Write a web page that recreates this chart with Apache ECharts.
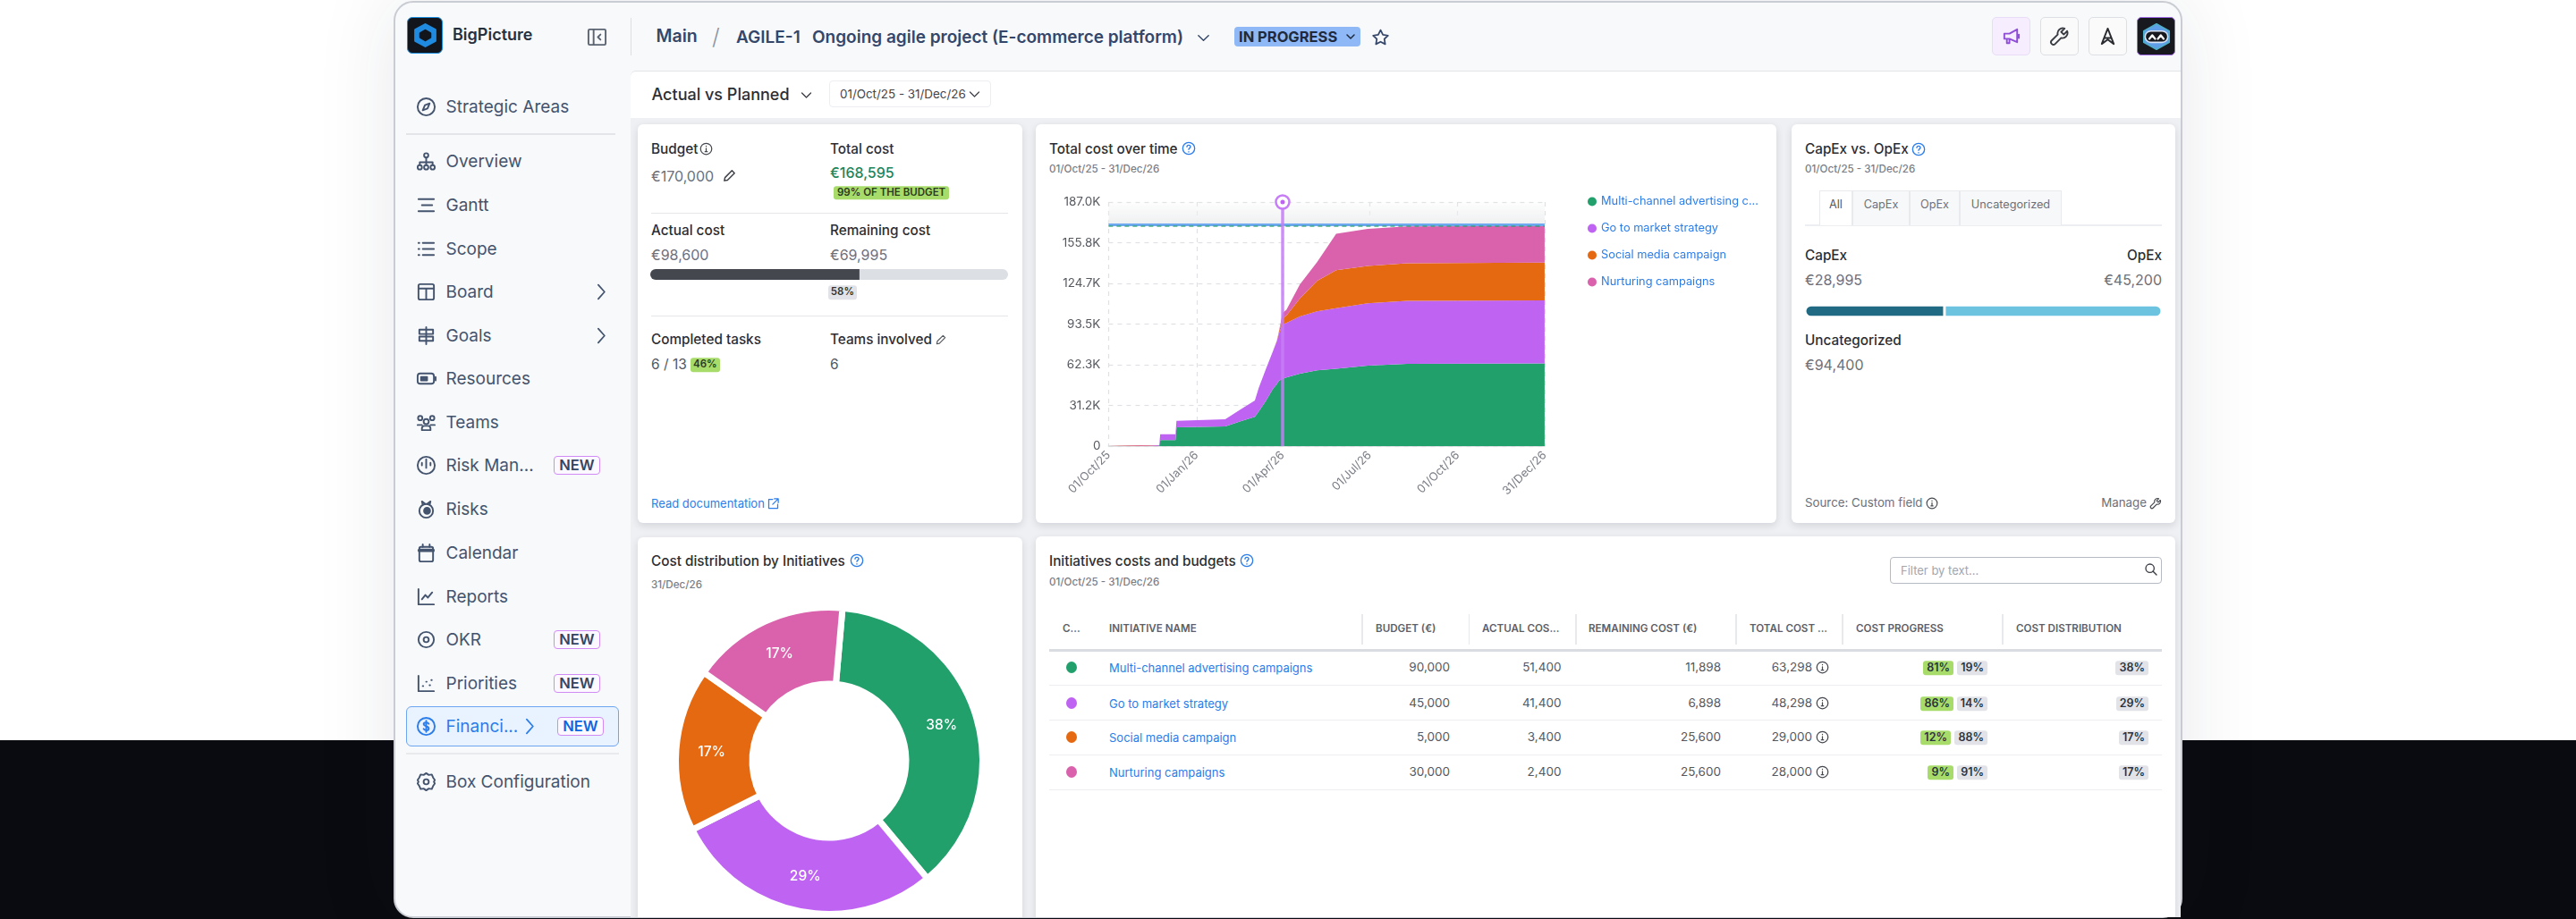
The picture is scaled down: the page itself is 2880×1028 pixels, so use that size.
<!DOCTYPE html>
<html>
<head>
<meta charset="utf-8">
<script src="https://cdn.jsdelivr.net/npm/echarts@6/dist/echarts.min.js"></script>
<style>
html,body{margin:0;padding:0;width:2880px;height:1028px;overflow:hidden;background:#fff;font-family:Inter,"Noto Sans",sans-serif}
#band{position:absolute;left:0;top:828px;width:2880px;height:200px;background:#0a0b10}
#win{position:absolute;left:440px;top:1px;width:2000px;height:1026px;background:#f8f9fa;border:2px solid #c9ccd2;border-radius:22px;box-sizing:border-box;box-shadow:0 0 90px rgba(30,40,70,.10);overflow:hidden}
#root{position:absolute;left:0;top:0;width:2880px;height:1026px;overflow:hidden;pointer-events:none}
.t{position:absolute;white-space:nowrap;transform:translateY(-50%);line-height:1}
.box{position:absolute;box-sizing:border-box}
.card{position:absolute;background:#fff;border-radius:6px;box-shadow:0 3px 8px rgba(30,40,70,.14)}
.chart{position:absolute}
svg{position:absolute;fill:none;stroke:currentColor;stroke-width:2;stroke-linecap:round;stroke-linejoin:round}
</style>
</head>
<body>
<div id="band"></div>
<div id="win"></div>
<div id="root"></div>
<div id="chartArea" class="chart" style="left:1158px;top:200px;width:828px;height:385px"></div>
<div id="chartPie" class="chart" style="left:713px;top:670px;width:430px;height:356px"></div>
<div id="chartCapex" class="chart" style="left:2018px;top:336px;width:399px;height:24px"></div>
<div id="chartBudget" class="chart" style="left:727px;top:297px;width:400px;height:20px"></div>
<script>
// initiatives table
var initiativeNames = ['Multi-channel advertising campaigns', 'Go to market strategy', 'Social media campaign', 'Nurturing campaigns'];
var budgetValues = [90000, 45000, 5000, 30000];
var actualValues = [51400, 41400, 3400, 2400];
var remainingValues = [11898, 6898, 25600, 25600];
var totalValues = [63298, 48298, 29000, 28000];
var progressDone = [81, 86, 12, 9];
var progressLeft = [19, 14, 88, 91];
var distribution = [38, 29, 17, 17];
var seriesColors = ['#22A06B', '#BF63F3', '#E56910', '#DA62AC'];

// total cost over time
var dates = ['2025-10-01', '2025-11-04', '2025-11-05', '2025-11-23', '2025-11-24', '2025-12-10', '2025-12-11', '2026-01-31', '2026-02-16', '2026-03-03', '2026-03-07', '2026-03-14', '2026-03-22', '2026-03-26', '2026-03-28', '2026-04-01', '2026-04-05', '2026-04-19', '2026-05-07', '2026-05-27', '2026-06-29', '2026-08-09', '2026-12-31'];
var multiChannel = [0, 0, 0, 0, 4600, 4600, 14400, 15000, 19000, 22400, 26500, 34000, 44000, 47500, 50000, 51600, 52500, 55400, 58000, 59300, 61600, 63000, 63298];
var goToMarket = [0, 0, 500, 700, 4500, 4500, 5000, 5500, 9000, 12600, 18000, 24000, 29000, 33000, 36000, 41500, 41800, 44000, 45300, 46300, 47800, 48300, 48298];
var socialMedia = [0, 0, 0, 0, 0, 0, 0, 0, 0, 0, 0, 0, 0, 300, 1000, 4700, 5700, 13600, 23200, 29100, 28600, 28800, 29000];
var nurturing = [0, 0, 0, 0, 0, 0, 0, 0, 0, 0, 0, 0, 0, 0, 300, 4300, 4500, 10800, 14500, 27900, 28400, 28200, 28000];

var tickDates = ['2025-10-01', '2026-01-01', '2026-04-01', '2026-07-01', '2026-10-01', '2026-12-31'];
var tickLabels = ['01/Oct/25', '01/Jan/26', '01/Apr/26', '01/Jul/26', '01/Oct/26', '31/Dec/26'];
var yTickLabels = ['0', '31.2K', '62.3K', '93.5K', '124.7K', '155.8K', '187.0K'];
var yMax = 187000;
var budgetValue = 170000;
var totalCostValue = 168595;
var actualCostValue = 98600;
var capexValue = 28995;
var opexValue = 45200;
var uncategorizedValue = 94400;
var todayDate = '2026-04-01';

// one axis category per calendar day, so the area keeps its real time spacing
var axisDays = [];
for (var day = Date.UTC(2025, 9, 1); day <= Date.UTC(2026, 11, 31); day += 86400000) {
    axisDays.push(new Date(day).toISOString().slice(0, 10));
}

var root = document.getElementById('root');
function money(v) { return v.toLocaleString('en-US'); }

function t(x, y, str, size, color, weight, right) {
    var el = document.createElement('div');
    el.className = 't';
    el.textContent = str;
    el.style.top = y + 'px';
    if (right) el.style.right = (2880 - x) + 'px'; else el.style.left = x + 'px';
    el.style.fontSize = size + 'px';
    el.style.color = color;
    el.style.fontWeight = weight || 400;
    root.appendChild(el);
    return el;
}
function box(x, y, w, h, css, cls) {
    var el = document.createElement('div');
    el.className = cls || 'box';
    el.style.cssText = 'left:' + x + 'px;top:' + y + 'px;width:' + w + 'px;height:' + h + 'px;' + (css || '');
    root.appendChild(el);
    return el;
}
function icon(x, y, size, color, inner, sw) {
    var s = document.createElementNS('http://www.w3.org/2000/svg', 'svg');
    s.setAttribute('viewBox', '0 0 24 24');
    s.setAttribute('width', size);
    s.setAttribute('height', size);
    s.style.left = (x - size / 2) + 'px';
    s.style.top = (y - size / 2) + 'px';
    s.style.color = color;
    if (sw) s.style.strokeWidth = sw;
    s.innerHTML = inner;
    root.appendChild(s);
}
function badge(xRight, y, str, bg) {
    var el = t(xRight, y, str, 12.5, '#2c3140', 600, true);
    el.style.background = bg;
    el.style.padding = '1.5px 4px';
    el.style.borderRadius = '3px';
    return el;
}

var ICONS = {
    compass: '<circle cx="12" cy="12" r="10"/><path d="M16 8l-2.5 6L8 16l2.5-6z"/>',
    tree: '<circle cx="12" cy="5" r="2.5"/><circle cx="4.5" cy="19" r="2.5"/><circle cx="12" cy="19" r="2.5"/><circle cx="19.5" cy="19" r="2.5"/><path d="M12 8v8M4.5 16v-3h15v3"/>',
    gantt: '<path d="M3 5h18M7 12h12M3 19h18"/>',
    list: '<path d="M8 5h13M8 12h13M8 19h13M3 5h1M3 12h1M3 19h1"/>',
    board: '<rect x="3" y="3" width="18" height="18" rx="2"/><path d="M3 8h18M12 8v13"/>',
    sign: '<path d="M12 2v20M4 5h16v5H4zM4 13h16v5H4z"/>',
    battery: '<rect x="2" y="6" width="19" height="12" rx="3"/><rect x="6" y="10" width="7" height="4" fill="currentColor"/><path d="M23 10v4"/>',
    team: '<circle cx="5" cy="7" r="2.5"/><circle cx="19" cy="7" r="2.5"/><circle cx="12" cy="11" r="3"/><path d="M2 15h5M17 15h5M7 21v-2a3 3 0 013-3h4a3 3 0 013 3v2z"/>',
    risk: '<circle cx="12" cy="12" r="10"/><path d="M12 5v10M7 9v3M17 9v3"/>',
    fire: '<circle cx="12" cy="14" r="8"/><circle cx="13" cy="14" r="3.5" fill="currentColor"/><path d="M8 7L7 3l4 3M16 7l1-4-4 3"/>',
    calendar: '<rect x="4" y="5" width="16" height="17" rx="2"/><path d="M4 9h16" stroke-width="4"/><path d="M8 2v3M16 2v3"/>',
    chart: '<path d="M3 3v18h18M7 15l4-5 3 3 5-6"/>',
    target: '<circle cx="12" cy="12" r="9"/><circle cx="12" cy="12" r="3"/>',
    scatter: '<path d="M3 3v18h18M8 15h.5M12 10h.5M16 14h.5M18 8h.5"/>',
    dollar: '<circle cx="12" cy="12" r="10"/><path d="M15 9c-1-2-6-2-6 .5s6 2 6 5-5 2.5-6 .5M12 5.5v13"/>',
    gear: '<circle cx="12" cy="12" r="3"/><path d="M12 2l3 2 3.5-.5L20 7l2 3-1 2 1 2-2 3-1.500 3.500L15 20l-3 2-3-2-3.500.5L4 17l-2-3 1-2-1-2 2-3 1.500-3.500L9 4z"/>',
    chevRight: '<path d="M9 3l8 9-8 9"/>',
    chevDown: '<path d="M4 8l8 8 8-8"/>',
    help: '<circle cx="12" cy="12" r="10"/><path d="M9 9.5a3 3 0 116 0c0 2-3 2-3 4.500M12 17.5v.5"/>',
    info: '<circle cx="12" cy="12" r="10"/><path d="M12 11v6M10 17h4M12 7v.5"/>',
    pencil: '<path d="M4 20l1-5L16 4l4 4L9 19z"/>',
    wrench: '<path d="M21 6l-4 4-3-3 4-4a6 6 0 00-8 7L3 17a2.8 2.8 0 004 4l7-7a6 6 0 007-8z"/>',
    external: '<path d="M11 4H4v16h16v-7M14 3h7v7M21 3L11 13"/>',
    search: '<circle cx="10" cy="10" r="7"/><path d="M15 15l6 6"/>',
    star: '<path d="M12 3l3 6 6.5 1-4.700 4.500 1.100 6.500L12 18l-5.900 3 1.100-6.500L2.500 10 9 9z"/>',
    panel: '<rect x="2" y="3" width="20" height="18" rx="1.5"/><path d="M8 3v18M16 9l-3 3 3 3"/>',
    megaphone: '<path d="M4 9h6l9-5v15l-9-4H4zM7 15v5h3v-5M21 10v4"/>',
    atlas: '<path d="M12 3L5 21l7-5 7 5zM8 14h8"/>'
};

// sidebar
var navItems = [
    ['Strategic Areas', 119, 'compass'], ['Overview', 180, 'tree'], ['Gantt', 229, 'gantt'], ['Scope', 278, 'list'],
    ['Board', 326, 'board'], ['Goals', 375, 'sign'], ['Resources', 423, 'battery'], ['Teams', 472, 'team'],
    ['Risk Man...', 520, 'risk'], ['Risks', 569, 'fire'], ['Calendar', 618, 'calendar'], ['Reports', 667, 'chart'],
    ['OKR', 715, 'target'], ['Priorities', 764, 'scatter'], ['Financi...', 812, 'dollar'], ['Box Configuration', 874, 'gear']
];
var NAV = '#44546f', BLUE = '#2b7de9', DARK = '#2c2e33', GREY = '#6d7078';
box(454, 790, 238, 45, 'background:#e9f2ff;border:1.5px solid #6ea5f0;border-radius:6px');
navItems.forEach(function (n) {
    var on = n[0] == 'Financi...';
    t(498.5, n[1], n[0], 19, on ? BLUE : NAV);
    icon(476, n[1], 23, on ? BLUE : NAV, ICONS[n[2]]);
});
['Board', 'Goals'].forEach(function (n, i) { icon(671, i ? 375 : 326, 21, NAV, ICONS.chevRight); });
icon(591, 812, 21, BLUE, ICONS.chevRight);
[[619, 520], [619, 715], [619, 764], [623, 812]].forEach(function (b, i) {
    box(b[0], b[1] - 10, 52, 21, 'border:1.5px solid #d08bf5;border-radius:4px;background:#fcf8ff');
    var el = t(b[0] + 26, b[1], 'NEW', 16.5, i == 3 ? '#0c66e4' : '#344563', 600);
    el.style.transform = 'translate(-50%,-50%)';
});
box(454, 149, 234, 2, 'background:#e3e5e9');
box(454, 842, 238, 2, 'background:#e8eaed');
box(705, 20, 1, 42, 'background:#dcdfe4');
// logo
box(455, 19, 40, 41, 'background:#12151c;border:1px solid #1d8fe0;border-radius:6px');
icon(475, 39.5, 27, '#1f8ae0', '<path d="M12 1l10 5.5v11L12 23 2 17.5v-11z" fill="currentColor"/><path d="M12 7l5 3v4l-5 3-5-3v-4z" fill="#12151c" stroke="#12151c"/>');
t(506, 39, 'BigPicture', 18, '#26303e', 600);
icon(667, 41, 23, '#5a6472', ICONS.panel);

// top bar
t(733.5, 41, 'Main', 19.5, '#34476b', 600);
t(796, 41, '/', 25, '#8b93a1', 300);
t(823, 41, 'AGILE-1', 19, '#34476b', 600);
t(908, 41, 'Ongoing agile project (E-commerce platform)', 19, '#34476b', 600);
icon(1345, 42, 17, '#34476b', ICONS.chevDown);
box(1380, 30, 141, 22, 'background:#8fb8f6;border-radius:4px');
t(1385, 41, 'IN PROGRESS', 16.5, '#1f2a3d', 700);
icon(1510, 41, 12, '#1f2a3d', ICONS.chevDown, 3);
icon(1543, 41, 21, '#34476b', ICONS.star);
[[2227, '#f6edff', '#8f4fd6', 'megaphone', '#e9dcf7'], [2281, '#fafafa', '#3a3d44', 'wrench', '#dcdfe4'], [2335, '#fafafa', '#2a2c31', 'atlas', '#dcdfe4']].forEach(function (b) {
    box(b[0], 19, 43, 43, 'background:' + b[1] + ';border:1.5px solid ' + b[4] + ';border-radius:5px');
    icon(b[0] + 21.5, 40.5, 23, b[2], ICONS[b[3]]);
});
box(2389, 19, 43, 43, 'background:#17191f;border:1.5px solid #a06ae8;border-radius:5px');
icon(2410.5, 40.5, 38, '#5f9ee8', '<path d="M12 3l9 5v8l-9 5-9-5V8z" fill="currentColor" stroke="#4fb0c8" stroke-width="1"/><rect x="4" y="8" width="16" height="8" rx="4" fill="#17191f" stroke="#d8e4f5" stroke-width="1"/><path d="M7 13.5l2-2.5 2 2.5M13 13.5l2-2.5 2 2.5" stroke="#fff" stroke-width="1.5"/>');

// panel
box(705, 79, 1733, 947, 'background:#eff0f3;border-top-left-radius:6px');
box(705, 79, 1733, 53, 'background:#fff;border-top:1px solid #e2e4e8;border-top-left-radius:6px');
t(728.5, 106, 'Actual vs Planned', 18, DARK, 500);
icon(901, 106, 15, '#3a3d44', ICONS.chevDown);
box(927, 90, 181, 30, 'background:#fff;border:1.5px solid #eceef1;border-radius:4px');
t(939, 105.5, '01/Oct/25 - 31/Dec/26', 13.4, '#42454c');
icon(1089, 105.5, 15, '#42454c', ICONS.chevDown);

box(713, 139, 430, 446, '', 'card');
box(1158, 139, 828, 446, '', 'card');
box(2003, 139, 429, 446, '', 'card');
box(713, 601, 430, 450, '', 'card');
box(1158, 600, 1274, 450, '', 'card');

// budget card
var LABEL = 15.3, LW = 500;
t(728, 167, 'Budget', LABEL, DARK, LW);
icon(789, 166, 15, '#44474e', ICONS.info);
t(728, 197, '€' + money(budgetValue), 16, GREY);
icon(815, 196, 17, '#3a3d44', ICONS.pencil);
t(928, 167, 'Total cost', LABEL, DARK, LW);
t(928, 193, '€' + money(totalCostValue), 16, '#1f845a', 500);
var bb = t(932, 215.5, '99% OF THE BUDGET', 11.5, '#2a3a1e', 600);
bb.style.cssText += ';background:#a8dc6a;padding:2px 4px;border-radius:3px';
box(728, 238, 399, 1, 'background:#e4e6ea');
t(728, 258, 'Actual cost', LABEL, DARK, LW);
t(928, 258, 'Remaining cost', LABEL, DARK, LW);
t(728, 285, '€' + money(actualCostValue), 16, GREY);
t(928, 285, '€' + money(totalCostValue - actualCostValue), 16, GREY);
var pb = t(958, 327, Math.round(actualCostValue / totalCostValue * 100) + '%', 11.5, '#333', 600, true);
pb.style.cssText += ';background:#e1e3e8;padding:2px 3px;border-radius:3px';
box(728, 353, 399, 1, 'background:#e4e6ea');
t(728, 380, 'Completed tasks', LABEL, DARK, LW);
t(928, 380, 'Teams involved', LABEL, DARK, LW);
icon(1052, 380, 14, '#55585f', ICONS.pencil);
t(728, 408, '6 / 13', 15.5, '#55585f');
var p2 = t(772, 408, '46%', 11.5, '#2a3a1e', 600);
p2.style.cssText += ';background:#a8dc6a;padding:2px 3px;border-radius:3px';
t(928, 408, '6', 15.5, '#55585f');
t(728, 563, 'Read documentation', 13, BLUE);
icon(864, 563, 15, BLUE, ICONS.external);

// chart card titles
t(1173, 167, 'Total cost over time', LABEL, DARK, LW);
icon(1329, 166, 16, BLUE, ICONS.help);
t(1173, 190, '01/Oct/25 - 31/Dec/26', 11.6, '#7a7d85', 500);

// capex card
t(2018, 167, 'CapEx vs. OpEx', LABEL, DARK, LW);
icon(2145, 167, 16, BLUE, ICONS.help);
t(2018, 190, '01/Oct/25 - 31/Dec/26', 11.6, '#7a7d85', 500);
box(2018, 251, 399, 1.5, 'background:#eceef1');
[['CapEx', 2071, 64], ['OpEx', 2135, 56], ['Uncategorized', 2191, 114]].forEach(function (b) {
    box(b[1], 213, b[2], 38.5, 'background:#f7f8f9;border:1px solid #e8eaed;border-bottom:none');
    var el = t(b[1] + b[2] / 2, 229, b[0], 12.7, '#6d7078');
    el.style.transform = 'translate(-50%,-50%)';
});
box(2034, 213, 37, 39, 'background:#fff;border:1px solid #e8eaed;border-bottom:none');
t(2045, 229, 'All', 12.7, '#55585f');
t(2018, 286, 'CapEx', LABEL, DARK, LW);
t(2018, 313, '€' + money(capexValue), 16, GREY);
t(2417, 286, 'OpEx', LABEL, DARK, LW, true);
t(2417, 313, '€' + money(opexValue), 16, GREY, 400, true);
t(2018, 381, 'Uncategorized', LABEL, DARK, LW);
t(2018, 408, '€' + money(uncategorizedValue), 16, GREY);
t(2018, 563, 'Source: Custom field', 13.3, GREY);
icon(2160, 563, 14, '#44474e', ICONS.info);
t(2400, 563, 'Manage', 13.3, GREY, 400, true);
icon(2410, 563, 14, '#44474e', ICONS.wrench);

// pie card
t(728, 628, 'Cost distribution by Initiatives', LABEL, DARK, LW);
icon(958, 627, 16, BLUE, ICONS.help);
t(728, 655, '31/Dec/26', 11.6, '#7a7d85', 500);

// table
t(1173, 628, 'Initiatives costs and budgets', LABEL, DARK, LW);
icon(1394, 627, 16, BLUE, ICONS.help);
t(1173, 652, '01/Oct/25 - 31/Dec/26', 11.6, '#7a7d85', 500);
box(2113, 623, 304, 29.5, 'background:#fff;border:1.5px solid #b6bac2;border-radius:4px');
t(2125, 638, 'Filter by text...', 13, '#a3a6ad');
icon(2405, 637, 16, '#3a3d44', ICONS.search);
var headers = [['C...', 1188], ['INITIATIVE NAME', 1240], ['BUDGET (€)', 1538], ['ACTUAL COS...', 1657], ['REMAINING COST (€)', 1776], ['TOTAL COST ...', 1956], ['COST PROGRESS', 2075], ['COST DISTRIBUTION', 2254]];
headers.forEach(function (h) { t(h[1], 704, h[0], 11.6, '#5d6068', 600); });
[1522, 1641.5, 1761, 1940, 2059, 2238].forEach(function (x) { box(x, 687, 1.5, 34, 'background:#e7e9ec'); });
box(1173, 726, 1244, 2.5, 'background:#d9dce1');
var rowY = [747, 787, 825, 864];
var lineY = [766, 805, 844, 883];
initiativeNames.forEach(function (name, i) {
    var y = rowY[i];
    box(1192, y - 7, 12, 13, 'border-radius:50%;background:' + seriesColors[i]);
    t(1240, y, name, 13, BLUE);
    t(1621, y, money(budgetValues[i]), 13.5, '#55585f', 400, true);
    t(1745.5, y, money(actualValues[i]), 13.5, '#55585f', 400, true);
    t(1924, y, money(remainingValues[i]), 13.5, '#55585f', 400, true);
    t(2026, y, money(totalValues[i]), 13.5, '#55585f', 400, true);
    icon(2037, y - 1, 15, '#44474e', ICONS.info);
    var g = badge(2222, y, progressLeft[i] + '%', '#e1e3e8');
    badge(2222 - g.offsetWidth - 4, y, progressDone[i] + '%', '#a8dc6a');
    badge(2402, y, distribution[i] + '%', '#e1e3e8');
    box(1173, lineY[i], 1244, 1, 'background:#eceef1');
});

// total cost over time
function isTick(i, d) { return tickDates.indexOf(d) >= 0; }
var stackSeries = [['Multi-channel advertising campaigns', multiChannel], ['Go to market strategy', goToMarket], ['Social media campaign', socialMedia], ['Nurturing campaigns', nurturing]].map(function (s, i) {
    return {
        name: s[0],
        type: 'line',
        stack: 'cost',
        color: seriesColors[i],
        showSymbol: false,
        lineStyle: { width: 0 },
        areaStyle: { color: seriesColors[i], opacity: 1 },
        data: s[1].map(function (v, j) { return [dates[j], v]; })
    };
});
var marks = {
    name: 'marks',
    type: 'line',
    z: 5,
    showSymbol: false,
    lineStyle: { width: 0 },
    data: dates.map(function (d) { return [d, 0]; }),
    markArea: {
        silent: true,
        itemStyle: {
            color: { type: 'linear', x: 0, y: 0, x2: 0, y2: 1, colorStops: [{ offset: 0, color: 'rgba(240,241,242,0.1)' }, { offset: 1, color: '#eeeff0' }] }
        },
        data: [[{ yAxis: budgetValue }, { yAxis: yMax }]]
    },
    markLine: {
        silent: true,
        symbol: 'none',
        label: { show: false },
        animation: false,
        data: [
            { yAxis: budgetValue, lineStyle: { color: '#6ea8ee', width: 3, type: 'solid' } },
            { yAxis: totalCostValue, lineStyle: { color: '#22A06B', width: 2, type: [5, 4], opacity: 0.6 } },
            { xAxis: todayDate, lineStyle: { color: '#c67df5', width: 3.5, type: 'solid', opacity: 0.85 } }
        ]
    },
    markPoint: {
        silent: true,
        label: { show: false },
        data: [
            { coord: [todayDate, yMax], symbol: 'circle', symbolSize: 15, itemStyle: { color: '#fff', borderColor: '#c67df5', borderWidth: 2.5 } },
            { coord: [todayDate, yMax], symbol: 'circle', symbolSize: 5, itemStyle: { color: '#BF63F3' } }
        ]
    }
};
var areaChart = echarts.init(document.getElementById('chartArea'));
areaChart.setOption({
    animation: false,
    textStyle: { fontFamily: 'Inter' },
    legend: {
        orient: 'vertical',
        left: 612,
        top: 14,
        itemWidth: 10,
        itemHeight: 10,
        itemGap: 17,
        icon: 'circle',
        data: initiativeNames,
        formatter: function (n) { return n.length > 28 ? n.slice(0, 26) + 'c...' : n; },
        textStyle: { color: BLUE, fontSize: 12.8, fontFamily: 'Inter' }
    },
    grid: { left: 81.4, top: 26, width: 487.5, height: 273 },
    xAxis: {
        type: 'category',
        data: axisDays,
        boundaryGap: false,
        axisLine: { lineStyle: { color: '#d8dadd', width: 1.5 } },
        axisTick: { show: false, interval: isTick },
        splitLine: { show: true, interval: isTick, lineStyle: { color: '#dfe1e4', type: [5, 5], width: 1.2 } },
        axisLabel: {
            interval: isTick,
            rotate: 45,
            hideOverlap: false,
            margin: 8,
            fontSize: 13,
            fontFamily: 'Inter',
            color: '#7a7d85',
            formatter: function (d) { return tickLabels[tickDates.indexOf(d)]; }
        }
    },
    yAxis: {
        type: 'value',
        min: 0,
        max: yMax,
        interval: yMax / 6,
        axisLine: { show: false },
        axisTick: { show: false },
        splitLine: { show: true, lineStyle: { color: '#dfe1e4', type: [5, 5], width: 1.2 } },
        axisLabel: {
            margin: 9,
            fontSize: 13.5,
            fontFamily: 'Inter',
            color: '#55585f',
            formatter: function (v, i) { return yTickLabels[i]; }
        }
    },
    series: stackSeries.concat([marks])
});

// cost distribution
var pieChart = echarts.init(document.getElementById('chartPie'));
pieChart.setOption({
    animation: false,
    series: [{
        type: 'pie',
        silent: true,
        center: [214, 181],
        radius: [86, 171.5],
        startAngle: 85,
        itemStyle: { borderColor: '#fff', borderWidth: 7 },
        label: {
            position: 'inside',
            color: '#fff',
            fontSize: 15.5,
            fontFamily: 'Inter',
            fontWeight: 500,
            formatter: function (p) { return distribution[p.dataIndex] + '%'; }
        },
        data: totalValues.map(function (v, i) {
            return { value: v, name: initiativeNames[i], itemStyle: { color: seriesColors[i] } };
        })
    }]
});

// single horizontal bars
function setBar(id, first, second, colors, gap) {
    var c = echarts.init(document.getElementById(id));
    c.setOption({
        animation: false,
        grid: { left: 0, right: 0, top: 0, bottom: 0 },
        xAxis: { type: 'value', min: 0, max: first + second, show: false },
        yAxis: { type: 'category', data: ['v'], show: false },
        series: [first, second].map(function (v, i) {
            return {
                type: 'bar',
                stack: 's',
                barWidth: gap ? 12 + gap : 12,
                silent: true,
                data: [v],
                itemStyle: { color: colors[i], borderRadius: i ? [0, 7, 7, 0] : [7, 0, 0, 7], borderColor: '#fff', borderWidth: gap }
            };
        })
    });
}
setBar('chartCapex', capexValue, opexValue, ['#206a83', '#6cc3e0'], 1.5);
setBar('chartBudget', actualCostValue, totalCostValue - actualCostValue, ['#44474e', '#dcdfe4'], 0);
</script>
</body>
</html>
